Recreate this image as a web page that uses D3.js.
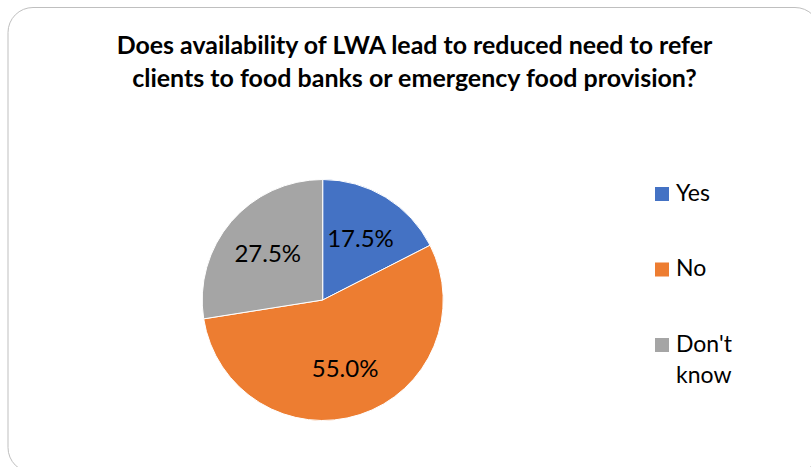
<!DOCTYPE html>
<html>
<head>
<meta charset="utf-8">
<script src="https://cdn.jsdelivr.net/npm/d3@7"></script>
<style>
    body { margin: 0; background: #fff; }
    svg { display: block; }
</style>
</head>
<body>
<div id="chart"></div>
<script>
const titleLines = [
    "Does availability of LWA lead to reduced need to refer",
    "clients to food banks or emergency food provision?"
]
const categories = ["Yes", "No", "Don't know"]
const values = [17.5, 55.0, 27.5]
const colors = ["#4472C4", "#ED7D31", "#A5A5A5"]

const width = 811
const height = 467
const font = "Lato, Carlito, 'Open Sans', sans-serif"

const svg = d3.select("#chart")
    .append("svg")
    .attr("width", width)
    .attr("height", height)

// chart area border (runs off the right and bottom edges)
svg.append("rect")
    .attr("x", 8)
    .attr("y", 7.5)
    .attr("width", 812)
    .attr("height", 465)
    .attr("rx", 25)
    .attr("ry", 25)
    .attr("fill", "#fff")
    .attr("stroke", "#bfbfbf")
    .attr("stroke-width", 1)

// title, fitted to the widths of the original lines
const titleWidths = [596, 565]
const titleY = [53.5, 87]
titleLines.forEach((line, i) => {
    const t = svg.append("text")
        .text(line)
        .attr("x", 414.5)
        .attr("y", titleY[i])
        .attr("text-anchor", "middle")
        .style("font-family", font)
        .style("font-weight", "bold")
        .style("font-size", "20px")
        .style("fill", "#000")
    const w = t.node().getComputedTextLength()
    t.style("font-size", (20 * titleWidths[i] / w) + "px")
})

const cx = 322.7
const cy = 300
const radius = 120.5

const pie = d3.pie()
    .sort(null)
    .value(d => d)

const arcs = pie(values)

const arc = d3.arc()
    .innerRadius(0)
    .outerRadius(radius)

const labelArc = d3.arc()
    .innerRadius(radius * 0.6)
    .outerRadius(radius * 0.6)

const g = svg.append("g")
    .attr("transform", `translate(${cx}, ${cy})`)

g.selectAll("path")
    .data(arcs)
    .join("path")
    .attr("d", arc)
    .attr("fill", (d, i) => colors[i])
    .attr("stroke", "#fff")
    .attr("stroke-width", 1)

g.selectAll("text")
    .data(arcs)
    .join("text")
    .attr("transform", d => `translate(${labelArc.centroid(d)})`)
    .attr("text-anchor", "middle")
    .attr("dy", "0.36em")
    .text(d => d3.format(".1f")(d.data) + "%")
    .style("font-family", font)
    .style("font-size", "24px")
    .style("fill", "#000")

// legend
const legendY = d3.scalePoint()
    .domain(categories)
    .range([192.5, 343.5])

const legend = svg.append("g")
    .selectAll("g")
    .data(categories)
    .join("g")
    .attr("transform", d => `translate(655, ${legendY(d)})`)

legend.append("rect")
    .attr("x", 0)
    .attr("y", -5.5)
    .attr("width", 14)
    .attr("height", 14)
    .attr("fill", (d, i) => colors[i])

legend.append("text")
    .attr("x", 21)
    .attr("y", 0)
    .style("font-family", font)
    .style("font-size", "23px")
    .style("fill", "#000")
    .selectAll("tspan")
    .data(d => d.split(" "))
    .join("tspan")
    .attr("x", 21)
    .attr("dy", (d, i) => i === 0 ? "0.36em" : "1.37em")
    .text(d => d)
</script>
</body>
</html>
